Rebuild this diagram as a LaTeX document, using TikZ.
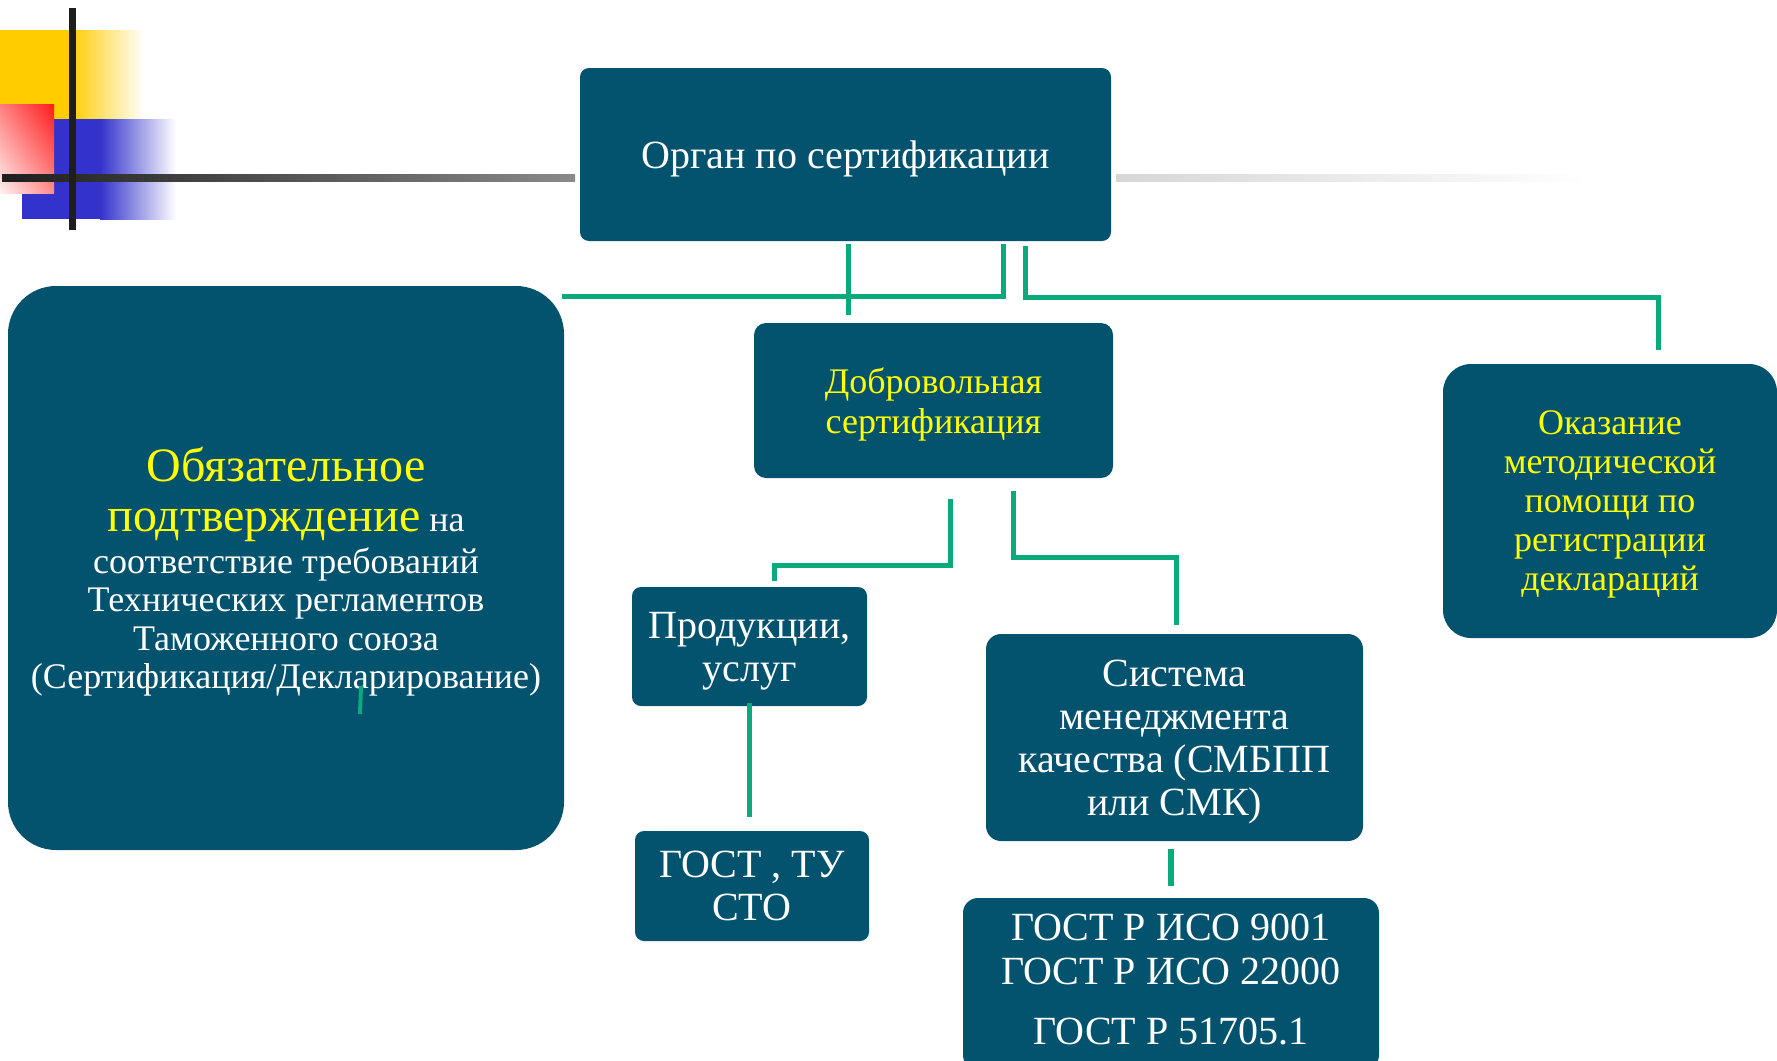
\documentclass[tikz,border=0pt]{standalone}
\usepackage{fontspec}
\setmainfont{Liberation Serif}
\usetikzlibrary{calc,shadings}

\definecolor{boxteal}{HTML}{03536F}
\definecolor{linkgreen}{HTML}{0AAA7C}
\definecolor{textyellow}{HTML}{FFFF00}
\definecolor{decoyellow}{HTML}{FFCC00}
\definecolor{decoblue}{HTML}{3333CC}
\definecolor{decored}{HTML}{FF1A1A}
\definecolor{decoink}{HTML}{1E1E1E}

\tikzset{
  orgbox/.style={fill=boxteal, rounded corners=9pt, inner sep=0pt, align=center, text=white, text depth=0pt},
  link/.style={draw=linkgreen, line width=5pt},
}

\begin{document}
\begin{tikzpicture}[x=1pt,y=-1pt]
\useasboundingbox (0,0) rectangle (1777,1060);

% corner decoration
\fill[decoyellow] (0,30) rectangle (70,119);
\shade[left color=decoyellow, right color=white] (70,30) rectangle (144,119);
\fill[decoblue] (22,119) rectangle (100,219);
\shade[left color=decoblue, right color=white] (100,119) rectangle (176,219);
\shade[upper right=decored, lower left=red!6, upper left=red!50, lower right=red!45] (0,104) rectangle (54,193);
\shade[left color=decoink, right color=black!46] (2,174) rectangle (575,181);
\shade[left color=black!16, right color=white] (1116,174) rectangle (1587,181);
\fill[decoink] (69,8) rectangle (76,230);

% boxes
\node[orgbox, minimum width=531pt, minimum height=173pt,
      font=\fontsize{40}{44}\selectfont] (top) at (845.5,154.5) {Орган по сертификации};
\node[orgbox, rounded corners=48pt, minimum width=556pt, minimum height=564pt,
      font=\fontsize{36}{38.5}\selectfont] (left) at (286,568)
  {{\color{textyellow}\fontsize{48}{51}\selectfont Обязательное}\\[12pt]
   {\color{textyellow}\fontsize{48}{51}\selectfont подтверждение} на\\[3pt]
   соответствие требований\\
   Технических регламентов\\
   Таможенного союза\\
   (Сертификация/Декларирование)};
\node[orgbox, rounded corners=12pt, minimum width=359pt, minimum height=155pt, text=textyellow,
      font=\fontsize{36}{40}\selectfont] (vol) at (933.5,400.5)
  {Добровольная\\сертификация};
\node[orgbox, rounded corners=28pt, minimum width=334pt, minimum height=274pt, text=textyellow,
      font=\fontsize{36}{39}\selectfont] (help) at (1610,501)
  {Оказание\\методической\\помощи по\\регистрации\\деклараций};
\node[orgbox, minimum width=235pt, minimum height=119pt,
      font=\fontsize{40}{43}\selectfont] (prod) at (749.5,646.5)
  {Продукции,\\услуг};
\node[orgbox, minimum width=234pt, minimum height=110pt,
      font=\fontsize{40}{43}\selectfont] (gost) at (752,886)
  {ГОСТ , ТУ\\СТО};
\node[orgbox, rounded corners=15pt, minimum width=377pt, minimum height=207pt,
      font=\fontsize{40}{43}\selectfont] (sys) at (1174.5,737.5)
  {Система\\менеджмента\\качества (СМБПП\\или СМК)};
\node[orgbox, rounded corners=15pt, minimum width=416pt, minimum height=172pt, text depth=9pt,
      font=\fontsize{40}{44}\selectfont] (iso) at (1171,984)
  {ГОСТ Р ИСО 9001\\ГОСТ Р ИСО 22000\\[16pt]ГОСТ Р 51705.1};

% connectors
\draw[link] ($(top.south)+(2.5,3)$) -- ($(vol.north)+(-85.5,-8)$);
\draw[link] ($(left.north east)+(-2,11)$) -| ($(top.south)+(157.5,3)$);
\draw[link] ($(top.south)+(179.5,5)$) |- ($(help.north)+(48,-66)$) -- ($(help.north)+(48,-14)$);
\draw[link] ($(vol.south)+(16.5,21)$) |- ($(prod.north)+(24.5,-21)$) -- ($(prod.north)+(24.5,-6)$);
\draw[link] ($(vol.south)+(79.5,13)$) |- ($(sys.north)+(1.5,-76)$) -- ($(sys.north)+(1.5,-9)$);
\draw[link] ($(prod.south)+(-0.5,-3)$) -- ($(gost.north)+(-3,-14)$);
\draw[link, line width=6.5pt] ($(sys.south)+(-3.5,8)$) -- ($(iso.north)+(0,-12)$);
\draw[link, line width=4pt] ($(left.center)+(75,118)$) -- ($(left.center)+(74,146)$);
\end{tikzpicture}
\end{document}
